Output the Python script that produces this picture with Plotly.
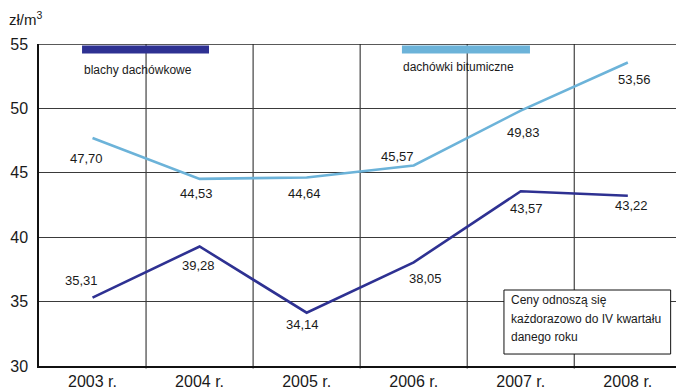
import plotly.graph_objects as go

# Roofing material prices, zł/m³, Q4 of each year
years = ["2003 r.", "2004 r.", "2005 r.", "2006 r.", "2007 r.", "2008 r."]
blachy_dachowkowe = [35.31, 39.28, 34.14, 38.05, 43.57, 43.22]
dachowki_bitumiczne = [47.70, 44.53, 44.64, 45.57, 49.83, 53.56]
y_ticks = [30, 35, 40, 45, 50, 55]

DARK = "#2e3192"
LIGHT = "#6cb3d9"
FONT = "Liberation Sans, Arial, sans-serif"
TXT = "#1a1a1a"

xs = list(range(len(years)))


def fmt(v):
    return f"{v:.2f}".replace(".", ",")


fig = go.Figure()
fig.add_trace(go.Scatter(x=xs, y=dachowki_bitumiczne, mode="lines",
                         line=dict(color=LIGHT, width=2.6), hoverinfo="skip"))
fig.add_trace(go.Scatter(x=xs, y=blachy_dachowkowe, mode="lines",
                         line=dict(color=DARK, width=2.6), hoverinfo="skip"))

shapes = []
# vertical separators between years
for i in range(len(years) - 1):
    shapes.append(dict(type="line", xref="x", yref="paper", x0=i + 0.5, x1=i + 0.5,
                       y0=-0.008, y1=1, line=dict(color="#505050", width=1.3), layer="below"))
# top border
shapes.append(dict(type="line", xref="paper", yref="y", x0=0, x1=1, y0=55, y1=55,
                   line=dict(color="#222", width=1.3)))
# legend swatches
shapes.append(dict(type="rect", xref="x", yref="y", x0=-0.098, x1=1.088, y0=54.26, y1=54.88,
                   fillcolor=DARK, line=dict(width=0)))
shapes.append(dict(type="rect", xref="x", yref="y", x0=2.89, x1=4.086, y0=54.26, y1=54.88,
                   fillcolor=LIGHT, line=dict(width=0)))
# note box
shapes.append(dict(type="rect", xref="x", yref="y", x0=3.843, x1=5.40, y0=30.93, y1=35.9,
                   fillcolor="white", line=dict(color="#111", width=1)))

annotations = []
# value labels: (dx, dy) pixel offsets from each point
light_off = [(-6, -20), (-3, -15), (-2, -16), (-16, 9), (3, -22), (7, -17)]
dark_off = [(-11, 17), (-1, -19), (-4, -12), (12, -16), (6, -17), (4, -10)]
for x, v, (dx, dy) in zip(xs, dachowki_bitumiczne, light_off):
    annotations.append(dict(x=x, y=v, xref="x", yref="y", text=fmt(v), showarrow=False,
                            xshift=dx, yshift=dy, font=dict(family=FONT, size=13, color=TXT)))
for x, v, (dx, dy) in zip(xs, blachy_dachowkowe, dark_off):
    annotations.append(dict(x=x, y=v, xref="x", yref="y", text=fmt(v), showarrow=False,
                            xshift=dx, yshift=dy, font=dict(family=FONT, size=13, color=TXT)))

# legend texts
annotations.append(dict(x=-0.095, y=53.0, xref="x", yref="y", text="blachy dachówkowe",
                        showarrow=False, xanchor="left", yanchor="middle",
                        font=dict(family=FONT, size=12, color=TXT)))
annotations.append(dict(x=2.877, y=53.23, xref="x", yref="y", text="dachówki bitumiczne",
                        showarrow=False, xanchor="left", yanchor="middle",
                        font=dict(family=FONT, size=12, color=TXT)))

# note text, one line at a time
note_lines = ["Ceny odnoszą się", "każdorazowo do IV kwartału", "danego roku"]
for k, line in enumerate(note_lines):
    annotations.append(dict(x=3.89, y=35.9, xref="x", yref="y", text=line, showarrow=False,
                            xanchor="left", yanchor="middle", yshift=-10 - 18.5 * k,
                            font=dict(family=FONT, size=12, color=TXT)))

# unit label
annotations.append(dict(x=0, y=1, xref="paper", yref="paper", text="zł/m<sup>3</sup>",
                        showarrow=False, xanchor="left", yanchor="middle",
                        xshift=-32, yshift=26, font=dict(family=FONT, size=15, color=TXT)))

fig.update_layout(
    width=676, height=391,
    margin=dict(l=39, r=0, t=44, b=25),
    paper_bgcolor="white", plot_bgcolor="white",
    showlegend=False,
    shapes=shapes, annotations=annotations,
    xaxis=dict(range=[-0.5, 5.45], tickvals=xs, ticktext=years, showgrid=False,
               zeroline=False, showline=True, linecolor="#111", linewidth=1.5,
               ticks="", tickfont=dict(family=FONT, size=16, color=TXT), fixedrange=True),
    yaxis=dict(range=[30, 55], tickvals=y_ticks, showgrid=True, gridcolor="#3a3a3a",
               gridwidth=1.2, zeroline=False, showline=True, linecolor="#111", linewidth=1.5,
               ticks="", ticklabelstandoff=6,
               tickfont=dict(family=FONT, size=16, color=TXT), fixedrange=True),
)

fig.write_html("out.html")
